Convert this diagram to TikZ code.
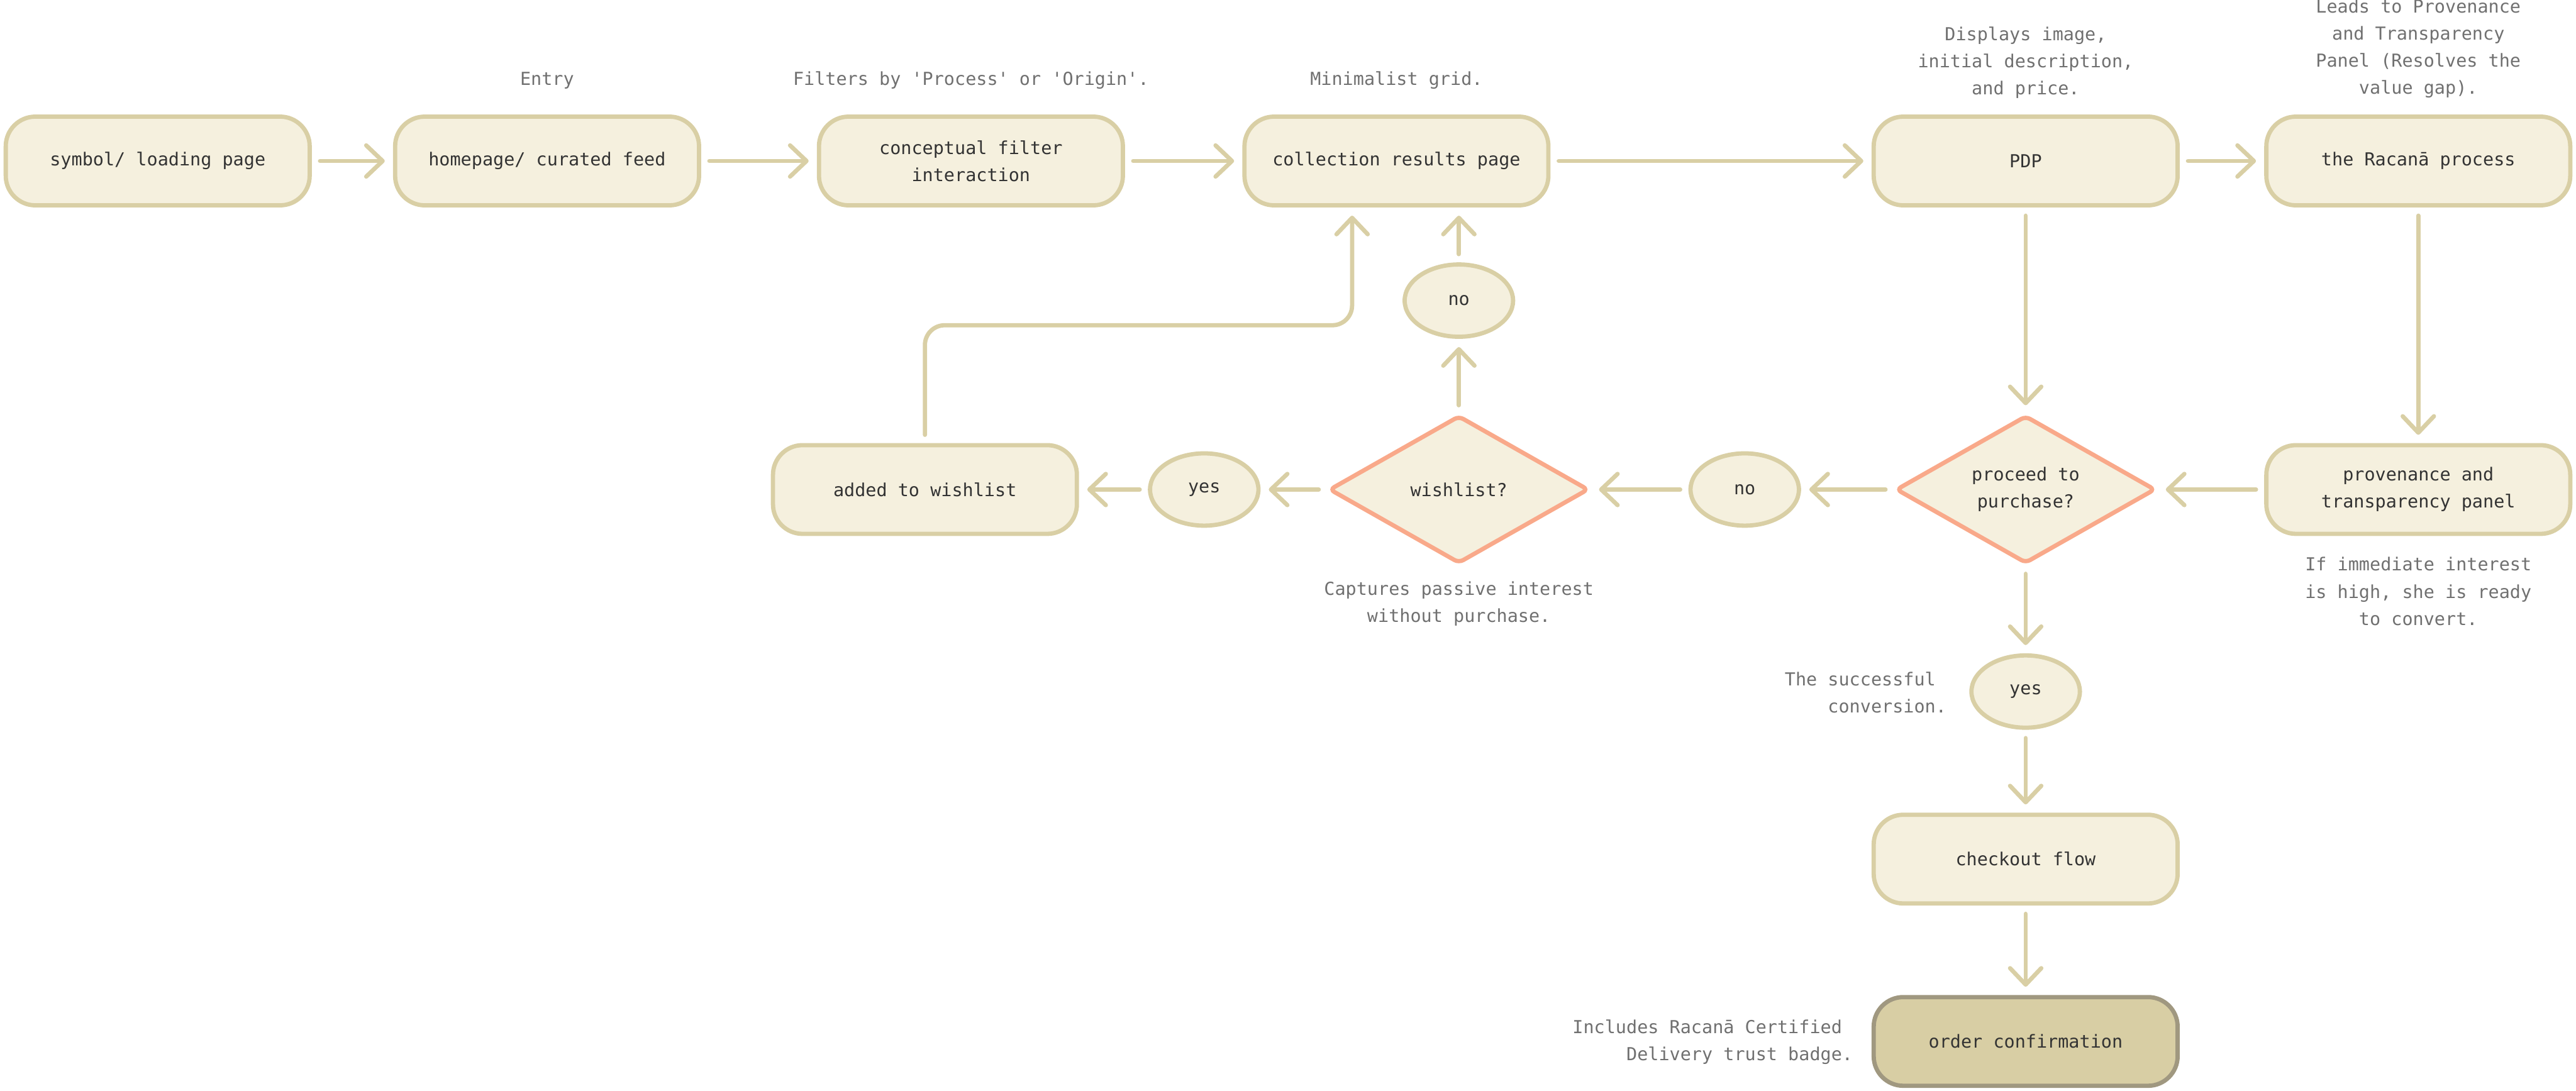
\documentclass[tikz,border=0pt]{standalone}
\usepackage{fontspec}
\setmonofont{DejaVu Sans Mono}
\usetikzlibrary{shapes.geometric,arrows.meta}

\definecolor{cream}{HTML}{F5F0DE}
\definecolor{sand}{HTML}{D9CFA5}
\definecolor{salmon}{HTML}{F9A98A}
\definecolor{khaki}{HTML}{D8CEA4}
\definecolor{taupe}{HTML}{A09880}
\definecolor{ink}{HTML}{333333}
\definecolor{notegrey}{HTML}{707070}

\begin{document}
\begin{tikzpicture}[x=1pt,y=-1pt,
    font=\ttfamily\fontsize{10.9}{16.5}\selectfont,
    pagebox/.style={draw=sand, fill=cream, line width=2.6pt, rounded corners=18pt,
        minimum width=185pt, minimum height=54pt, inner sep=0pt, align=center, text=ink},
    choice/.style={diamond, aspect=1.7, draw=salmon, fill=cream, line width=2.6pt,
        rounded corners=3pt, minimum width=158pt, minimum height=90pt, inner sep=0pt,
        align=center, text=ink},
    reply/.style={ellipse, draw=sand, fill=cream, line width=2.6pt,
        minimum width=66pt, minimum height=44pt, inner sep=0pt, text=ink},
    notetext/.style={text=notegrey, align=center, inner sep=0pt},
    flow/.style={draw=sand, line width=2.6pt, line cap=round, shorten <=5pt, shorten >=5pt,
        -{Straight Barb[length=10pt,width=19pt,round]}}]

    \useasboundingbox (0,0) rectangle (1568,664);

    % ページのノード
    \node[pagebox] (start) at (96,98) {symbol/ loading page};
    \node[pagebox] (home) at (333,98) {homepage/ curated feed};
    \node[pagebox] (filter) at (591,98) {conceptual filter\\interaction};
    \node[pagebox] (results) at (850,98) {collection results page};
    \node[pagebox] (pdp) at (1233,98) {PDP};
    \node[pagebox] (process) at (1472,98) {the Racanā process};
    \node[pagebox] (panel) at (1472,298) {provenance and\\transparency panel};
    \node[pagebox] (added) at (563,298) {added to wishlist};
    \node[pagebox] (checkout) at (1233,523) {checkout flow};
    \node[pagebox, fill=khaki, draw=taupe] (order) at (1233,634) {order confirmation};

    % 分岐と答え
    \node[choice] (buy) at (1233,298) {proceed to\\purchase?};
    \node[choice] (wish) at (888,298) {wishlist?};
    \node[reply] (buyno) at (1062,298) {no};
    \node[reply] (buyyes) at (1233,421) {yes};
    \node[reply] (wishyes) at (733,298) {yes};
    \node[reply] (wishno) at (888,183) {no};

    % 注釈
    \node[notetext] (entrynote) at (333,49) {Entry};
    \node[notetext] (filternote) at (591,49) {Filters by 'Process' or 'Origin'.};
    \node[notetext] (gridnote) at (850,49) {Minimalist grid.};
    \node[notetext] (pdpnote) at (1233,38) {Displays image,\\initial description,\\and price.};
    \node[notetext] (processnote) at (1472,29.5) {Leads to Provenance\\and Transparency\\Panel (Resolves the\\value gap).};
    \node[notetext] (wishnote) at (888,367.5) {Captures passive interest\\without purchase.};
    \node[notetext] (panelnote) at (1472,360) {If immediate interest\\is high, she is ready\\to convert.};
    \node[notetext, align=right, anchor=east] (yesnote) at (1185,421.5) {The successful\hphantom{x}\\conversion.};
    \node[notetext, align=right, anchor=east] (ordernote) at (1128,634.5) {Includes Racanā Certified\hphantom{x}\\Delivery trust badge.};

    % 矢印の描画
    \draw[flow] (start) -- (home);
    \draw[flow] (home) -- (filter);
    \draw[flow] (filter) -- (results);
    \draw[flow] (results) -- (pdp);
    \draw[flow] (pdp) -- (process);
    \draw[flow] (pdp) -- (buy);
    \draw[flow] (process) -- (panel);
    \draw[flow] (panel) -- (buy);
    \draw[flow] (buy) -- (buyno);
    \draw[flow] (buyno) -- (wish);
    \draw[flow] (wish) -- (wishyes);
    \draw[flow] (wishyes) -- (added);
    \draw[flow] (wish) -- (wishno);
    \draw[flow] (wishno.north) -- (wishno.north |- results.south);
    \draw[flow] (buy) -- (buyyes);
    \draw[flow] (buyyes) -- (checkout);
    \draw[flow] (checkout) -- (order);

    % ウィッシュリストから戻る線
    \coordinate (bend) at (823,198);
    \draw[flow, rounded corners=12pt] (added.north) |- (bend) -- (bend |- results.south);

\end{tikzpicture}
\end{document}
